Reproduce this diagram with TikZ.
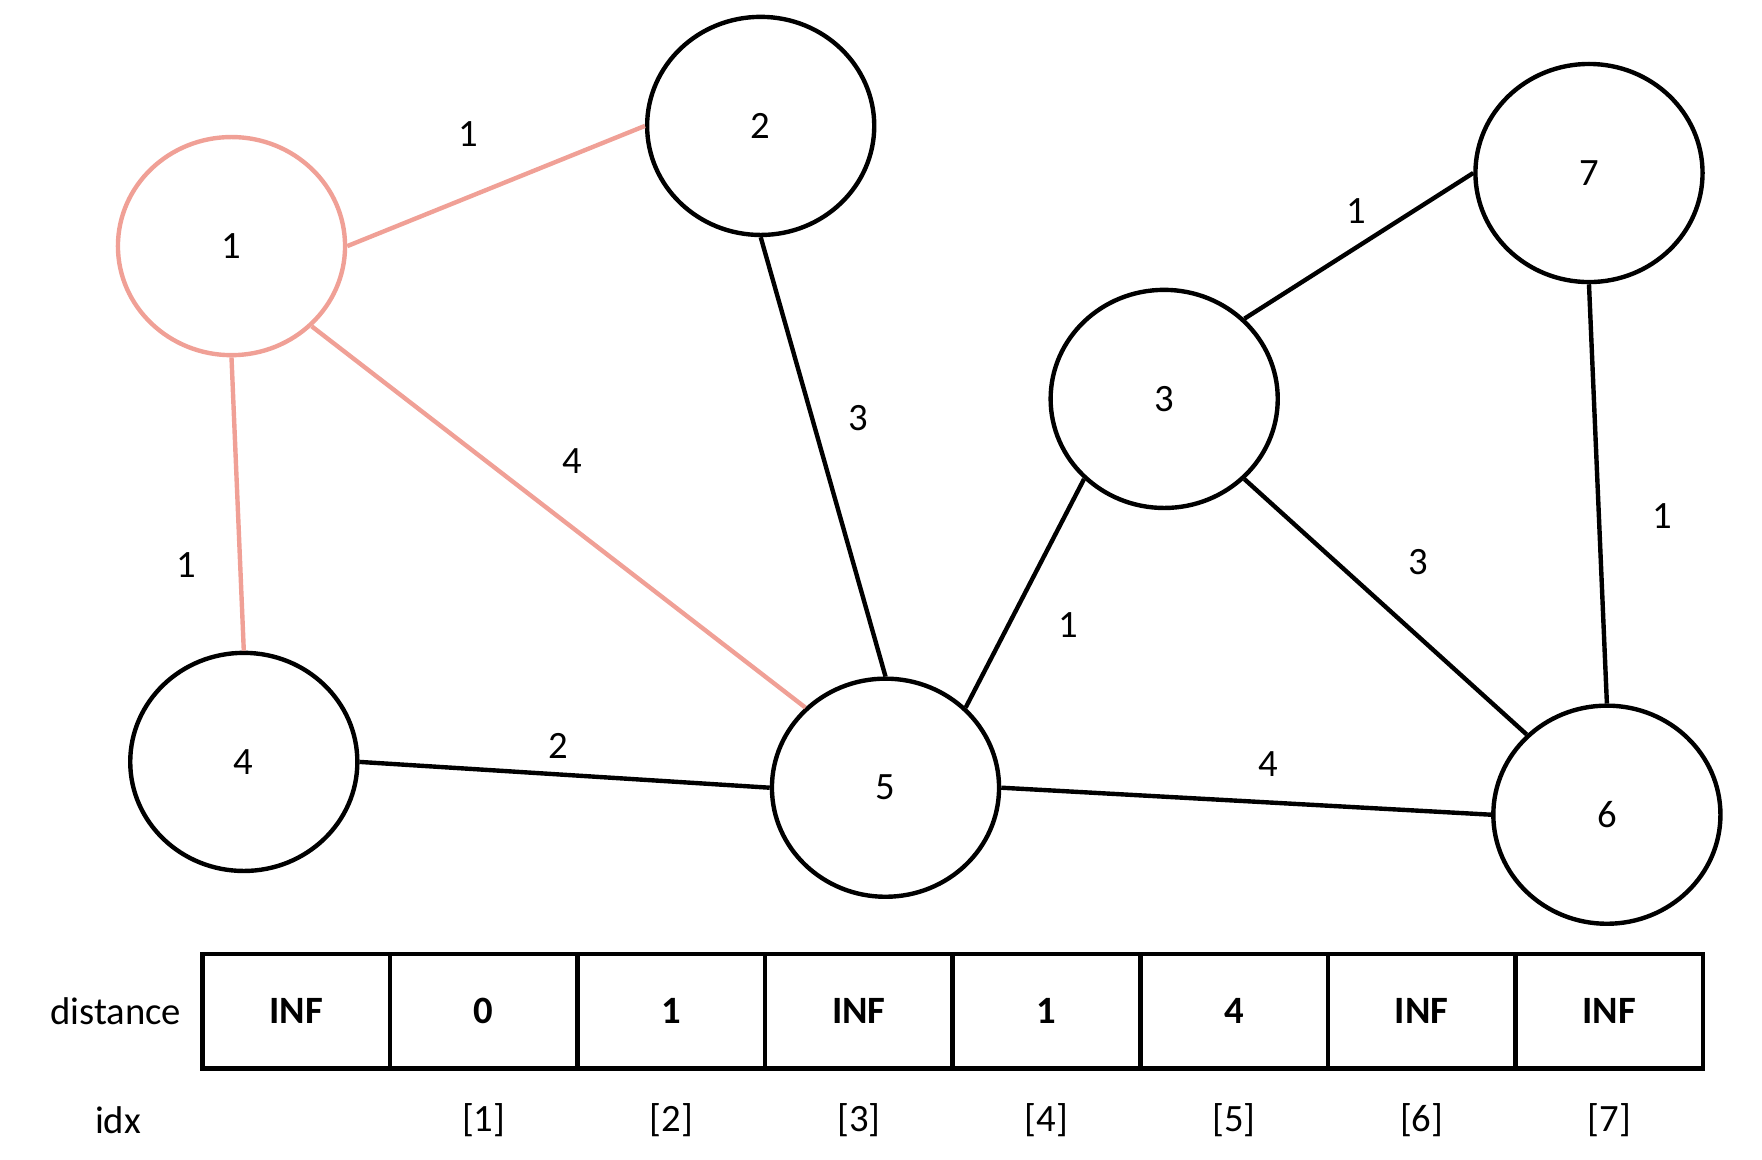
\documentclass[tikz,border=0pt]{standalone}
\usepackage{fontspec}
\setmainfont{Carlito}
\usetikzlibrary{shapes.geometric}
\definecolor{visited}{RGB}{240,160,150}

\begin{document}
\begin{tikzpicture}[x=0.01cm,y=-0.01cm,
  every node/.style={font=\fontsize{11}{13}\selectfont},
  vertex/.style={ellipse,draw,line width=1.25pt,minimum width=2.27cm,minimum height=2.18cm,inner sep=0pt},
  edge/.style={line width=1.25pt},
  cell/.style={rectangle,draw,line width=1.3pt,minimum width=1.876cm,minimum height=1.146cm,inner sep=0pt,font=\fontsize{11}{13}\selectfont\bfseries}]
  \useasboundingbox (0,0) rectangle (1762,1160);
  % vertices
  \node[vertex,draw=visited] (v1) at (231.5,246.1) {1};
  \node[vertex] (v2) at (760.7,125.9) {2};
  \node[vertex] (v3) at (1164.2,398.9) {3};
  \node[vertex] (v4) at (243.8,761.9) {4};
  \node[vertex] (v5) at (885.5,787.7) {5};
  \node[vertex] (v6) at (1606.9,814.7) {6};
  \node[vertex] (v7) at (1589.0,173.0) {7};
  % edges
  \draw[edge,visited] (v1.east) -- (v2.west);
  \draw[edge,visited] (v1.south) -- (v4.north);
  \draw[edge,visited] (v1.-45) -- (v5.135);
  \draw[edge] (v2.south) -- (v5.north);
  \draw[edge] (v3.45) -- (v7.west);
  \draw[edge] (v3.-135) -- (v5.45);
  \draw[edge] (v3.-45) -- (v6.135);
  \draw[edge] (v7.south) -- (v6.north);
  \draw[edge] (v4.east) -- (v5.west);
  \draw[edge] (v5.east) -- (v6.west);
  % weights
  \node (w12) at (468.6,133.7) {1};
  \node (w14) at (186.5,565.2) {1};
  \node (w15) at (572.0,460.7) {4};
  \node (w25) at (858.5,418.0) {3};
  \node (w37) at (1356.3,211.3) {1};
  \node (w76) at (1661.9,515.8) {1};
  \node (w35) at (1068.6,624.8) {1};
  \node (w36) at (1418.1,561.9) {3};
  \node (w45) at (558.5,746.1) {2};
  \node (w56) at (1268.6,764.1) {4};
  % distance table
  \node (dist) at (115.7,1011.3) {distance};
  \node (idx) at (118.0,1120.3) {idx};
  \foreach \val [count=\i from 0] in {INF,0,1,INF,1,4,INF,INF}
    \node[cell] (c\i) at ({202.3+187.6*(\i+0.5)},1011.3) {\val};
  \foreach \i in {1,...,7}
    \node (i\i) at ({202.3+187.6*(\i+0.5)},1120.3) {[\i]};
\end{tikzpicture}
\end{document}
